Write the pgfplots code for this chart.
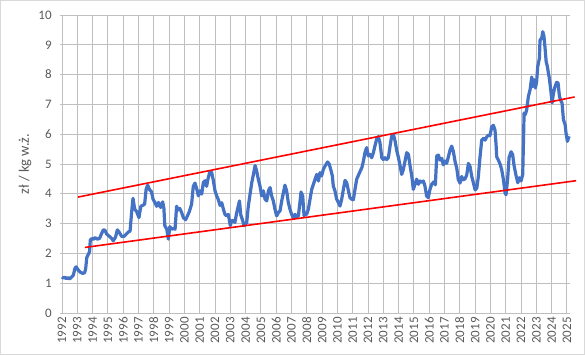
\documentclass[border=0pt]{standalone}
\usepackage{pgfplots}
\pgfplotsset{compat=1.18}
\usepackage{fontspec}
\setmainfont{Carlito}
\definecolor{txt}{HTML}{595959}
\definecolor{grid}{HTML}{D9D9D9}
\definecolor{blu}{HTML}{4472C4}
\begin{document}
\fontsize{12.5bp}{14bp}\selectfont
\begin{tikzpicture}
\begin{axis}[
  scale only axis, width=510bp, height=298bp,
  xmin=1991.87, xmax=2025.2, ymin=0, ymax=10,
  clip=false,
  axis line style={draw=none},
  ymajorgrids, grid style={grid, line width=0.9bp},
  major tick length=0pt,
  xtick={1992,1993,...,2025}, ytick={0,1,...,10},
  /pgf/number format/assume math mode=true,
  /pgf/number format/1000 sep={},
  xticklabel style={rotate=90, anchor=east, text=txt, font=\fontsize{13bp}{14bp}\selectfont},
  yticklabel style={text=txt, font=\fontsize{13bp}{14bp}\selectfont, xshift=-4bp},
  ylabel={zł / kg w.ż.},
  every axis y label/.style={at={([xshift=-35bp]rel axis cs:0,0.5)}, rotate=90, anchor=center, text=txt, font=\fontsize{14.5bp}{16bp}\selectfont},
]
\draw[grid, line width=1bp] ([xshift=-59.5bp,yshift=-41.5bp]rel axis cs:0,0) rectangle ([xshift=14.5bp,yshift=14.5bp]rel axis cs:1,1);
\addplot[blu, line width=3.2bp, line join=round] coordinates {
(1992.00,1.21)(1992.10,1.17)(1992.20,1.20)(1992.30,1.15)(1992.40,1.19)(1992.50,1.14)(1992.62,1.20)(1992.74,1.27)(1992.85,1.50)(1992.92,1.55)
(1993.05,1.45)(1993.20,1.37)(1993.35,1.33)(1993.48,1.35)(1993.55,1.50)(1993.62,1.86)(1993.72,1.97)(1993.80,2.05)(1993.85,2.45)(1993.95,2.50)
(1994.05,2.47)(1994.16,2.53)(1994.30,2.48)(1994.45,2.50)(1994.55,2.62)(1994.70,2.79)(1994.80,2.78)(1994.92,2.65)
(1995.10,2.57)(1995.25,2.50)(1995.35,2.42)(1995.50,2.55)(1995.62,2.79)(1995.75,2.70)(1995.90,2.57)
(1996.05,2.57)(1996.20,2.65)(1996.34,2.72)(1996.45,2.75)(1996.55,3.37)(1996.64,3.85)(1996.75,3.49)(1996.88,3.40)
(1997.03,3.20)(1997.15,3.58)(1997.30,3.62)(1997.40,3.65)(1997.50,4.16)(1997.60,4.29)(1997.72,4.14)(1997.85,4.07)(1997.95,3.82)
(1998.05,3.73)(1998.19,3.58)(1998.30,3.71)(1998.45,3.54)(1998.58,3.73)(1998.66,3.51)(1998.72,2.93)(1998.85,2.81)(1998.95,2.48)
(1999.05,2.90)(1999.15,2.81)(1999.28,2.84)(1999.39,2.81)(1999.49,3.58)(1999.60,3.46)(1999.70,3.51)(1999.82,3.37)(1999.93,3.20)
(2000.08,3.13)(2000.20,3.26)(2000.32,3.40)(2000.47,3.65)(2000.58,4.25)(2000.69,4.36)(2000.80,4.18)(2000.91,3.93)
(2001.02,4.10)(2001.13,3.99)(2001.24,4.38)(2001.35,4.44)(2001.45,4.25)(2001.55,4.52)(2001.67,4.74)(2001.78,4.72)(2001.89,4.45)
(2002.00,4.10)(2002.11,3.93)(2002.22,3.80)(2002.33,3.61)(2002.44,3.70)(2002.55,3.48)(2002.65,3.31)(2002.76,3.26)(2002.87,3.31)
(2003.00,2.93)(2003.09,3.10)(2003.20,3.10)(2003.30,3.04)(2003.42,3.37)(2003.60,3.76)(2003.68,3.30)(2003.81,3.10)(2003.90,2.93)
(2004.07,3.03)(2004.18,3.60)(2004.29,3.98)(2004.40,4.37)(2004.50,4.62)(2004.62,4.95)(2004.72,4.77)(2004.83,4.49)(2004.94,4.26)
(2005.05,3.93)(2005.16,4.10)(2005.27,3.82)(2005.38,3.76)(2005.49,4.10)(2005.60,4.21)(2005.70,3.93)(2005.81,3.76)(2005.92,3.48)
(2006.03,3.26)(2006.14,3.37)(2006.25,3.43)(2006.36,3.76)(2006.47,4.04)(2006.57,4.29)(2006.68,4.10)(2006.79,3.71)(2006.90,3.48)
(2007.01,3.31)(2007.12,3.20)(2007.23,3.31)(2007.34,3.22)(2007.45,3.26)(2007.55,3.71)(2007.62,4.06)(2007.73,3.93)(2007.82,3.26)(2007.88,3.37)(2007.99,3.31)
(2008.10,3.48)(2008.21,3.82)(2008.32,4.15)(2008.54,4.49)(2008.65,4.65)(2008.76,4.43)(2008.86,4.71)(2008.97,4.60)
(2009.08,4.82)(2009.19,4.93)(2009.36,5.07)(2009.47,4.99)(2009.56,4.82)(2009.67,4.60)(2009.73,4.26)(2009.84,4.10)(2009.95,3.82)
(2010.06,3.71)(2010.17,3.59)(2010.28,3.82)(2010.39,4.15)(2010.50,4.45)(2010.61,4.37)(2010.72,4.10)(2010.82,3.87)(2010.93,3.82)
(2011.04,3.80)(2011.15,4.15)(2011.26,4.49)(2011.37,4.62)(2011.50,4.77)(2011.60,4.88)(2011.70,5.10)(2011.80,5.38)(2011.91,5.55)
(2012.02,5.27)(2012.13,5.32)(2012.24,5.21)(2012.35,5.38)(2012.45,5.60)(2012.56,5.83)(2012.67,5.92)(2012.78,5.72)(2012.90,5.21)
(2013.00,5.15)(2013.11,5.21)(2013.22,5.15)(2013.33,5.21)(2013.44,5.60)(2013.55,5.94)(2013.66,5.99)(2013.77,5.77)(2013.88,5.44)(2013.99,5.21)
(2014.10,4.93)(2014.20,4.65)(2014.31,4.82)(2014.42,5.10)(2014.53,5.38)(2014.64,5.32)(2014.75,4.93)(2014.86,4.60)(2014.96,4.15)
(2015.07,4.32)(2015.18,4.49)(2015.29,4.32)(2015.40,4.43)(2015.51,4.38)(2015.62,4.43)(2015.72,4.26)(2015.83,3.93)(2015.94,3.87)
(2016.05,4.15)(2016.16,4.32)(2016.30,4.40)(2016.40,4.30)(2016.49,5.27)(2016.60,5.30)(2016.71,5.13)(2016.82,5.19)(2016.92,4.97)
(2017.03,5.10)(2017.14,5.02)(2017.25,5.24)(2017.36,5.47)(2017.47,5.60)(2017.58,5.41)(2017.69,5.08)(2017.80,4.86)(2017.90,4.47)
(2018.01,4.36)(2018.12,4.58)(2018.23,4.47)(2018.34,4.50)(2018.45,4.63)(2018.56,5.02)(2018.67,4.91)(2018.78,4.58)(2018.89,4.36)
(2019.00,4.13)(2019.11,4.19)(2019.21,4.58)(2019.32,5.24)(2019.43,5.80)(2019.54,5.86)(2019.65,5.80)(2019.76,5.91)(2019.87,5.97)(2019.97,5.95)
(2020.08,6.24)(2020.19,6.30)(2020.30,6.13)(2020.37,5.63)(2020.41,5.24)(2020.52,5.13)(2020.63,5.00)(2020.74,4.80)(2020.85,4.47)(2020.96,4.02)
(2021.02,3.97)(2021.12,4.47)(2021.22,5.22)(2021.35,5.41)(2021.45,5.32)(2021.55,4.93)(2021.68,4.60)(2021.79,4.37)(2021.89,4.54)
(2022.00,4.43)(2022.11,4.65)(2022.20,6.71)(2022.28,6.66)(2022.37,6.82)(2022.48,7.27)(2022.59,7.49)(2022.70,7.92)(2022.76,7.60)(2022.85,7.83)(2022.94,7.55)
(2023.02,7.77)(2023.09,8.27)(2023.20,8.55)(2023.24,9.16)(2023.35,9.22)(2023.42,9.44)(2023.50,9.28)(2023.57,8.89)(2023.64,8.44)(2023.72,8.27)(2023.79,8.05)(2023.85,7.88)(2023.94,7.49)
(2024.03,7.05)(2024.12,7.38)(2024.22,7.60)(2024.33,7.74)(2024.42,7.72)(2024.51,7.27)(2024.62,7.10)(2024.68,7.05)(2024.77,6.49)(2024.88,6.32)(2024.94,6.04)
(2025.03,5.76)(2025.14,5.93)
};
\addplot[red, line width=1.6bp] coordinates {(1993.05,3.89)(2025.5,7.25)};
\addplot[red, line width=1.6bp] coordinates {(1993.50,2.20)(2025.6,4.44)};
\end{axis}
\end{tikzpicture}
\end{document}
